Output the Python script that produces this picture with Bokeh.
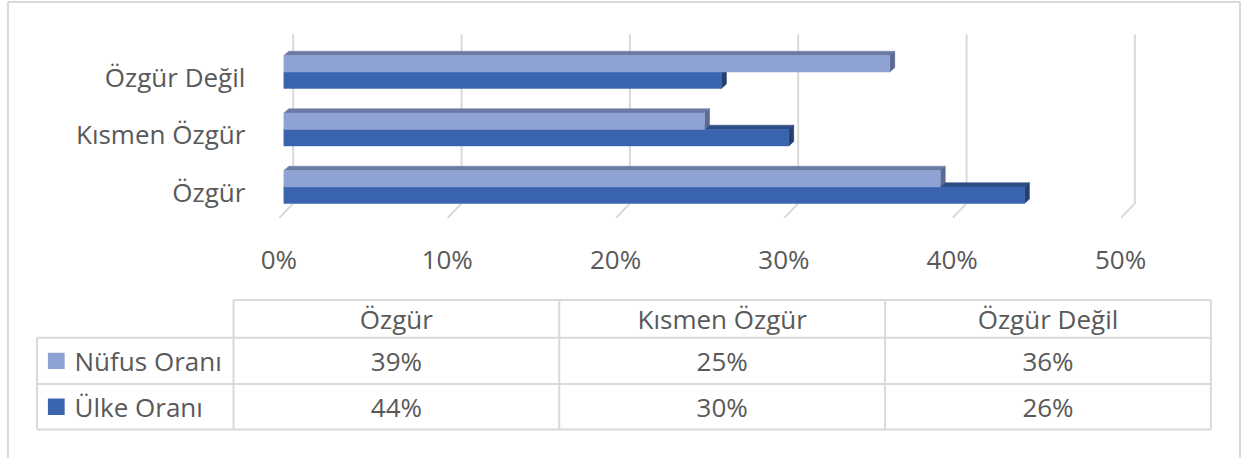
from bokeh.plotting import figure
from bokeh.models import Range1d, ColumnDataSource
from bokeh.core.properties import value
from bokeh.embed import file_html
from bokeh.resources import INLINE

# ---------------- data ----------------
categories = ["Özgür", "Kısmen Özgür", "Özgür Değil"]
nufus = [39, 25, 36]          # Nüfus Oranı (%)
ulke = [44, 30, 26]           # Ülke Oranı (%)
series_names = ["Nüfus Oranı", "Ülke Oranı"]
tick_values = [0, 10, 20, 30, 40, 50]
tick_labels = ["0%", "10%", "20%", "30%", "40%", "50%"]

# ---------------- layout constants ----------------
# the canvas is described in a 1257 x 474 layout space, shown in a 1241 x 458 figure
LW, LH = 1257.0, 474.0
W, H = 1241, 458
PX0, K = 287.0, 17.05         # layout x of front 0%, layout px per percent
CY0, KY = 193.0, 59.5         # layout y of first category, layout px per category
FONT = value("Open Sans")
FS = "26px"
TXT = "#595959"
GRID = "#d9d9d9"
LIGHT, LIGHT_TOP, LIGHT_SIDE = "#8fa2d4", "#6b7aa3", "#5c6a92"
DARK, DARK_TOP, DARK_SIDE = "#3a64ae", "#2c4d86", "#243f70"


def ydat(ly):
    return (CY0 - ly) / KY


def xdat(lx):
    return (lx - PX0) / K


p = figure(width=W, height=H, x_range=Range1d(xdat(0), xdat(LW)),
           y_range=Range1d(ydat(LH), ydat(0)), x_axis_type=None, y_axis_type=None,
           output_backend="svg", toolbar_location=None, min_border=0)
p.grid.visible = False
p.outline_line_color = None
p.background_fill_color = "white"
p.border_fill_color = "white"
p.extra_x_ranges = {"px": Range1d(0, LW)}
p.extra_y_ranges = {"py": Range1d(LH, 0)}

# ---------------- 3D geometry ----------------
bar_h = 17.0 / KY
dx = 5.0 / K
dy = 4.5 / KY
back_dx = 9.5 / K
foot_dx = -14.0 / K
grid_top = ydat(35)
grid_floor = ydat(210)
grid_front = ydat(225)

# gridlines (back wall + floor foot)
gx, gy = [], []
for t in tick_values:
    xb = t + back_dx
    gx.append([xb, xb, xb + foot_dx])
    gy.append([grid_top, grid_floor, grid_front])
p.multi_line(gx, gy, line_color=GRID, line_width=2)


def draw_bars(vals, offs, front, top, side):
    qs = dict(left=[], right=[], bottom=[], top=[])
    tx, ty, sx, sy = [], [], [], []
    for i, v in enumerate(vals):
        b = i + offs
        t = b + bar_h
        qs["left"].append(0)
        qs["right"].append(v)
        qs["bottom"].append(b)
        qs["top"].append(t)
        tx.append([0, v, v + dx, dx])
        ty.append([t, t, t + dy, t + dy])
        sx.append([v, v + dx, v + dx, v])
        sy.append([b, b + dy, t + dy, t])
    p.patches(tx, ty, fill_color=top, line_color=top, line_width=0.5)
    p.patches(sx, sy, fill_color=side, line_color=side, line_width=0.5)
    p.quad(source=ColumnDataSource(qs), left="left", right="right",
           bottom="bottom", top="top", fill_color=front, line_color=front,
           line_width=0.5)


draw_bars(ulke, -bar_h, DARK, DARK_TOP, DARK_SIDE)
draw_bars(nufus, 0.0, LIGHT, LIGHT_TOP, LIGHT_SIDE)

# tick labels
p.text(x=[t - 5.0 / K for t in tick_values], y=[ydat(268)] * len(tick_values),
       text=tick_labels, text_font=FONT, text_font_size=FS, text_color=TXT,
       text_align="center", text_baseline="middle")

# category labels
p.text(x=[xdat(248)] * len(categories),
       y=[i - 5.0 / KY for i in range(len(categories))],
       text=categories, text_font=FONT, text_font_size=FS, text_color=TXT,
       text_align="right", text_baseline="middle")

# ---------------- data table ----------------
col_edges = [236, 566, 896, 1226]
label_left = 37
row_edges = [310, 349, 397, 444]
lx, ly = [], []
lx.append([col_edges[0], col_edges[-1]]); ly.append([row_edges[0], row_edges[0]])
for r in row_edges[1:]:
    lx.append([label_left, col_edges[-1]]); ly.append([r, r])
for c in col_edges:
    lx.append([c, c]); ly.append([row_edges[0], row_edges[-1]])
lx.append([label_left, label_left]); ly.append([row_edges[1], row_edges[-1]])
p.multi_line(lx, ly, line_color=GRID, line_width=2, x_range_name="px", y_range_name="py")

col_centers = [(col_edges[i] + col_edges[i + 1]) / 2 for i in range(len(categories))]
row_centers = [(row_edges[i] + row_edges[i + 1]) / 2 for i in range(3)]

p.text(x=col_centers, y=[row_centers[0]] * len(categories), text=categories,
       text_font=FONT, text_font_size=FS, text_color=TXT, text_align="center",
       text_baseline="middle", x_range_name="px", y_range_name="py")
for ri, vals in enumerate([nufus, ulke]):
    p.text(x=col_centers, y=[row_centers[ri + 1]] * len(vals),
           text=[f"{v}%" for v in vals], text_font=FONT, text_font_size=FS,
           text_color=TXT, text_align="center", text_baseline="middle",
           x_range_name="px", y_range_name="py")

# legend keys + series names
key_colors = [LIGHT, DARK]
p.quad(left=[48, 48], right=[65, 65],
       top=[row_centers[1] - 8.5, row_centers[2] - 8.5],
       bottom=[row_centers[1] + 8.5, row_centers[2] + 8.5],
       fill_color=key_colors, line_color=None, x_range_name="px", y_range_name="py")
p.text(x=[75, 75], y=row_centers[1:], text=series_names, text_font=FONT,
       text_font_size=FS, text_color=TXT, text_align="left",
       text_baseline="middle", x_range_name="px", y_range_name="py")

# outer chart border (its bottom edge lies below the visible area)
bl, bt, br, bb = 7.5, 1.5, 1255.5, LH
p.multi_line([[bl, bl], [bl, br], [br, br]],
             [[bb, bt], [bt, bt], [bt, bb]],
             line_color=GRID, line_width=2, x_range_name="px", y_range_name="py")

open("out.html", "w").write(file_html(p, INLINE))
